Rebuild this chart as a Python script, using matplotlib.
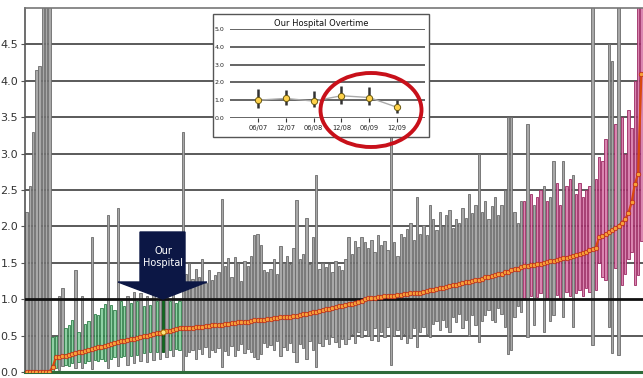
import matplotlib
matplotlib.use("Agg")
import matplotlib.pyplot as plt
from matplotlib.patches import Polygon, Ellipse, Rectangle
import numpy as np

# ---------------- data ----------------
estimates = [
    0, 0, 0, 0, 0, 0, 0, 0, 0.07, 0.20,
    0.21, 0.22, 0.22, 0.24, 0.25, 0.26, 0.27, 0.28, 0.29, 0.30,
    0.31, 0.33, 0.34, 0.35, 0.36, 0.37, 0.38, 0.40, 0.41, 0.42,
    0.43, 0.44, 0.45, 0.46, 0.47, 0.48, 0.49, 0.50, 0.51, 0.52,
    0.53, 0.54, 0.55, 0.56, 0.57, 0.58, 0.59, 0.60, 0.60,
    0.60, 0.61, 0.61, 0.62, 0.62, 0.62,
    0.63, 0.63, 0.64, 0.64, 0.65, 0.65, 0.66, 0.66, 0.67, 0.67,
    0.68, 0.68, 0.69, 0.69, 0.70, 0.71, 0.71, 0.72, 0.72, 0.73,
    0.73, 0.74, 0.74, 0.75, 0.75, 0.76, 0.76, 0.77, 0.77, 0.78,
    0.79, 0.80, 0.81, 0.82, 0.83, 0.84, 0.85, 0.86, 0.87, 0.88,
    0.89, 0.90, 0.91, 0.92, 0.93, 0.94, 0.95, 0.96, 0.98, 1.00,
    1.01, 1.02, 1.02, 1.03, 1.03, 1.04, 1.04, 1.05, 1.05, 1.06,
    1.06, 1.07, 1.07, 1.08, 1.08, 1.09, 1.09, 1.10, 1.11, 1.12,
    1.13, 1.14, 1.15, 1.16, 1.17, 1.18, 1.19, 1.20, 1.21, 1.22,
    1.23, 1.24, 1.25, 1.26, 1.27, 1.28, 1.30, 1.31, 1.32, 1.33,
    1.34, 1.35, 1.37, 1.38, 1.40, 1.41, 1.42, 1.44,
    1.45, 1.46, 1.47, 1.47, 1.48, 1.49, 1.50, 1.51, 1.52, 1.53,
    1.54, 1.55, 1.56, 1.57, 1.58, 1.60, 1.61, 1.62, 1.64, 1.65,
    1.67, 1.69, 1.71,
    1.85, 1.87, 1.89, 1.92, 1.95, 1.98, 2.01, 2.05, 2.10, 2.18,
    2.33, 2.58, 2.72, 4.10,
]

lower_ci = [
    0, 0, 0, 0, 0, 0, 0, 0, 0.00, 0.05,
    0.03, 0.08, 0.10, 0.08, 0.12, 0.05, 0.14, 0.06, 0.12, 0.15,
    0.04, 0.16, 0.15, 0.18, 0.15, 0.06, 0.18, 0.20, 0.08, 0.20,
    0.22, 0.10, 0.22, 0.12, 0.24, 0.15, 0.26, 0.14, 0.28, 0.16,
    0.27, 0.18, 0.27, 0.20, 0.30, 0.22, 0.32, 0.30, 0.00,
    0.22, 0.28, 0.30, 0.18, 0.32, 0.25, 0.35, 0.20, 0.30, 0.27,
    0.33, 0.07, 0.29, 0.24, 0.36, 0.22, 0.30, 0.38, 0.26, 0.31,
    0.28, 0.20, 0.18, 0.25, 0.40, 0.34, 0.37, 0.30, 0.42, 0.22,
    0.35, 0.30, 0.40, 0.28, 0.14, 0.38, 0.33, 0.18, 0.42, 0.30,
    0.07, 0.40, 0.36, 0.45, 0.38, 0.48, 0.41, 0.35, 0.46, 0.39,
    0.45, 0.52, 0.40, 0.55, 0.48, 0.58, 0.50, 0.44, 0.60, 0.42,
    0.55, 0.48, 0.62, 0.10, 0.50, 0.58, 0.45, 0.52, 0.40, 0.47,
    0.60, 0.35, 0.55, 0.62, 0.52, 0.48, 0.66, 0.70, 0.58, 0.72,
    0.62, 0.55, 0.75, 0.68, 0.80, 0.60, 0.72, 0.50, 0.78, 0.65,
    0.41, 0.70, 0.78, 0.85, 0.72, 0.68, 0.88, 0.80, 0.62, 0.25,
    0.30, 0.75, 0.90, 0.82,
    1.02, 0.48, 1.05, 0.65, 1.03, 1.08, 0.55, 1.02, 0.70, 0.78,
    1.06, 1.02, 0.75, 1.10, 1.04, 0.62, 1.08, 1.12, 1.05, 1.15,
    1.10, 0.37, 1.12,
    1.50, 1.30, 1.26, 0.62, 0.26, 1.43, 0.23, 1.20, 1.35, 1.55,
    1.65, 1.20, 1.33, 1.80,
]

upper_ci = [
    2.20, 2.55, 3.30, 4.15, 4.20, 5.50, 5.50, 5.50, 0.48, 0.50,
    1.05, 1.15, 0.60, 0.65, 0.72, 1.40, 0.55, 1.05, 0.66, 0.70,
    1.85, 0.80, 0.78, 0.88, 0.93, 2.15, 0.92, 0.85, 2.25, 0.97,
    0.90, 1.05, 0.95, 1.10, 0.97, 1.08, 0.90, 1.05, 0.92, 1.12,
    0.98, 1.10, 0.99, 1.15, 0.98, 1.20, 0.95, 0.97, 3.30,
    1.35, 1.50, 1.28, 1.42, 1.30, 1.55, 1.22, 1.40, 1.26, 1.33,
    1.38, 2.37, 1.45, 1.56, 1.30, 1.58, 1.50, 1.25, 1.52, 1.45,
    1.60, 1.88, 1.90, 1.74, 1.40, 1.38, 1.42, 1.55, 1.35, 1.73,
    1.50, 1.60, 1.48, 1.70, 2.36, 1.55, 1.62, 2.12, 1.48, 1.85,
    2.70, 1.42, 1.50, 1.44, 1.48, 1.38, 1.52, 1.45, 1.40, 1.55,
    1.85, 1.62, 1.80, 1.72, 1.85, 1.78, 1.70, 1.82, 1.65, 1.88,
    1.75, 1.80, 1.68, 3.30, 1.78, 1.60, 1.90, 1.85, 1.96, 2.05,
    1.82, 2.40, 1.90, 2.02, 1.88, 2.30, 2.10, 1.95, 2.20, 2.00,
    2.15, 2.22, 1.98, 2.10, 2.05, 2.25, 2.12, 2.45, 2.18, 2.30,
    3.00, 2.20, 2.35, 2.10, 2.28, 2.40, 2.15, 2.30, 2.50, 3.50,
    3.50, 2.20, 2.05, 2.35,
    2.35, 3.40, 2.45, 2.30, 2.40, 2.50, 2.55, 2.35, 2.40, 2.90,
    2.60, 2.30, 2.90, 2.55, 2.65, 2.70, 2.45, 2.60, 2.40, 2.50,
    2.55, 5.50, 2.65,
    2.95, 2.90, 3.20, 4.50, 4.27, 3.40, 5.50, 3.50, 3.00, 3.60,
    3.35, 4.00, 5.50, 5.50,
]

our_index = 42
y_ticks = [0.0, 0.5, 1.0, 1.5, 2.0, 2.5, 3.0, 3.5, 4.0, 4.5]

periods = ['06/07', '12/07', '06/08', '12/08', '06/09', '12/09']
ov_est = [1.00, 1.10, 0.95, 1.25, 1.15, 0.60]
ov_lo = [0.55, 0.75, 0.60, 0.80, 0.75, 0.30]
ov_hi = [1.65, 1.60, 1.50, 1.80, 1.75, 1.00]
ov_ticks = [0.0, 1.0, 2.0, 3.0, 4.0, 5.0]

# ---------------- figure ----------------
W, H = 643, 378
fig = plt.figure(figsize=(W / 100, H / 100), dpi=100)
fig.patch.set_facecolor('white')

def fx(x):
    return x / W

def fy(y):
    return 1 - y / H

ax = fig.add_axes([fx(25), fy(372), (643 - 25) / W, (372 - 8) / H])
n = len(estimates)
xs = np.arange(n)
est = np.array(estimates)
lo = np.array(lower_ci)
hi = np.array(upper_ci)

face, edge = [], []
for i in range(n):
    if i == our_index:
        face.append('#0f6b1e'); edge.append('#0a4a14')
    elif hi[i] < 1.0:
        face.append('#8fd0a4'); edge.append('#2f7d48')
    elif lo[i] > 1.0:
        face.append('#d985b0'); edge.append('#9b2a63')
    else:
        face.append('#a8a8a8'); edge.append('#6a6a6a')

# gridlines
for t in y_ticks[1:]:
    if t == 1.0:
        continue
    ax.axhline(t, color='#4d4d4d', lw=1.3, zorder=1)
ax.axhline(1.0, color='#111111', lw=2.0, zorder=4)

ax.bar(xs, hi - lo, bottom=lo, width=0.72, color=face, edgecolor=edge,
       linewidth=0.6, zorder=2)

ax.plot(xs, est, color='#d9480f', lw=1.6, zorder=5)
ax.plot(xs, est, linestyle='none', marker='o', ms=3.2, mfc='#f7a23a',
        mec='#c0301a', mew=0.6, zorder=6)
ax.plot([our_index], [est[our_index]], marker='o', ms=3.6, mfc='#ffe680',
        mec='#b07000', mew=0.6, zorder=7)

ax.set_xlim(-0.5, n - 0.5)
ax.set_ylim(0, 5.0)
ax.set_yticks(y_ticks)
ax.set_yticklabels([f'{t:.1f}' for t in y_ticks], fontsize=8, color='#333333')
ax.set_xticks([])
ax.tick_params(axis='y', length=3, color='#555555', pad=2)
ax.spines['right'].set_visible(False)
ax.spines['top'].set_color('#777777')
ax.spines['top'].set_linewidth(1.2)
ax.spines['left'].set_color('#555555')
ax.spines['left'].set_linewidth(1.2)
ax.spines['bottom'].set_color('#2e6b3a')
ax.spines['bottom'].set_linewidth(2.2)
ax.spines['bottom'].set_linestyle((0, (1, 1)))

# ---------------- arrow "Our Hospital" ----------------
arrow_pts = [(140, 232), (185, 232), (185, 282), (207, 282), (163, 299),
             (118, 282), (140, 282)]
fig.add_artist(Polygon([(fx(x), fy(y)) for x, y in arrow_pts], closed=True,
                       transform=fig.transFigure, facecolor='#0c1745',
                       edgecolor='#0c1745', zorder=10))
fig.text(fx(163), fy(257), 'Our\nHospital', color='white', fontsize=7,
         ha='center', va='center', linespacing=1.35, zorder=11)

# ---------------- inset ----------------
fig.add_artist(Rectangle((fx(213), fy(137)), (429 - 213) / W, (137 - 14) / H,
                         transform=fig.transFigure, facecolor='white',
                         edgecolor='#555555', lw=1.0, zorder=12))
iax = fig.add_axes([fx(230), fy(118), (425 - 230) / W, (118 - 29) / H])
iax.set_zorder(13)
iax.patch.set_alpha(0)
for t in ov_ticks:
    iax.axhline(t, color='#3a3a3a', lw=1.1, zorder=1)
ix = np.arange(len(periods))
iax.plot(ix, ov_est, color='#aaaaaa', lw=1.0, zorder=2)
iax.vlines(ix, ov_lo, ov_hi, color='#333333', lw=1.8, zorder=3)
iax.plot(ix, ov_est, linestyle='none', marker='o', ms=4.5, mfc='#ffd24a',
         mec='#6b5a10', mew=0.7, zorder=4)
iax.set_xlim(-1.0, 6.0)
iax.set_ylim(0, 5.0)
iax.set_yticks(ov_ticks)
iax.set_yticklabels([f'{t:.1f}' for t in ov_ticks], fontsize=4.5, color='#222222')
iax.set_xticks(ix)
iax.set_xticklabels(periods, fontsize=4.8, color='#222222')
iax.tick_params(axis='x', length=3, width=0.8, color='#333333', pad=2)
iax.tick_params(axis='y', length=0, pad=4)
for s in iax.spines.values():
    s.set_visible(False)
fig.text(fx(321), fy(23), 'Our Hospital Overtime', fontsize=6, ha='center',
         va='center', color='#111111', zorder=14)

# ---------------- red circle ----------------
fig.add_artist(Ellipse((fx(371), fy(110)), 101 / W, 74 / H,
                       transform=fig.transFigure, fill=False,
                       edgecolor='#c8101a', lw=2.8, zorder=20))

fig.savefig('out.png', dpi=100)
